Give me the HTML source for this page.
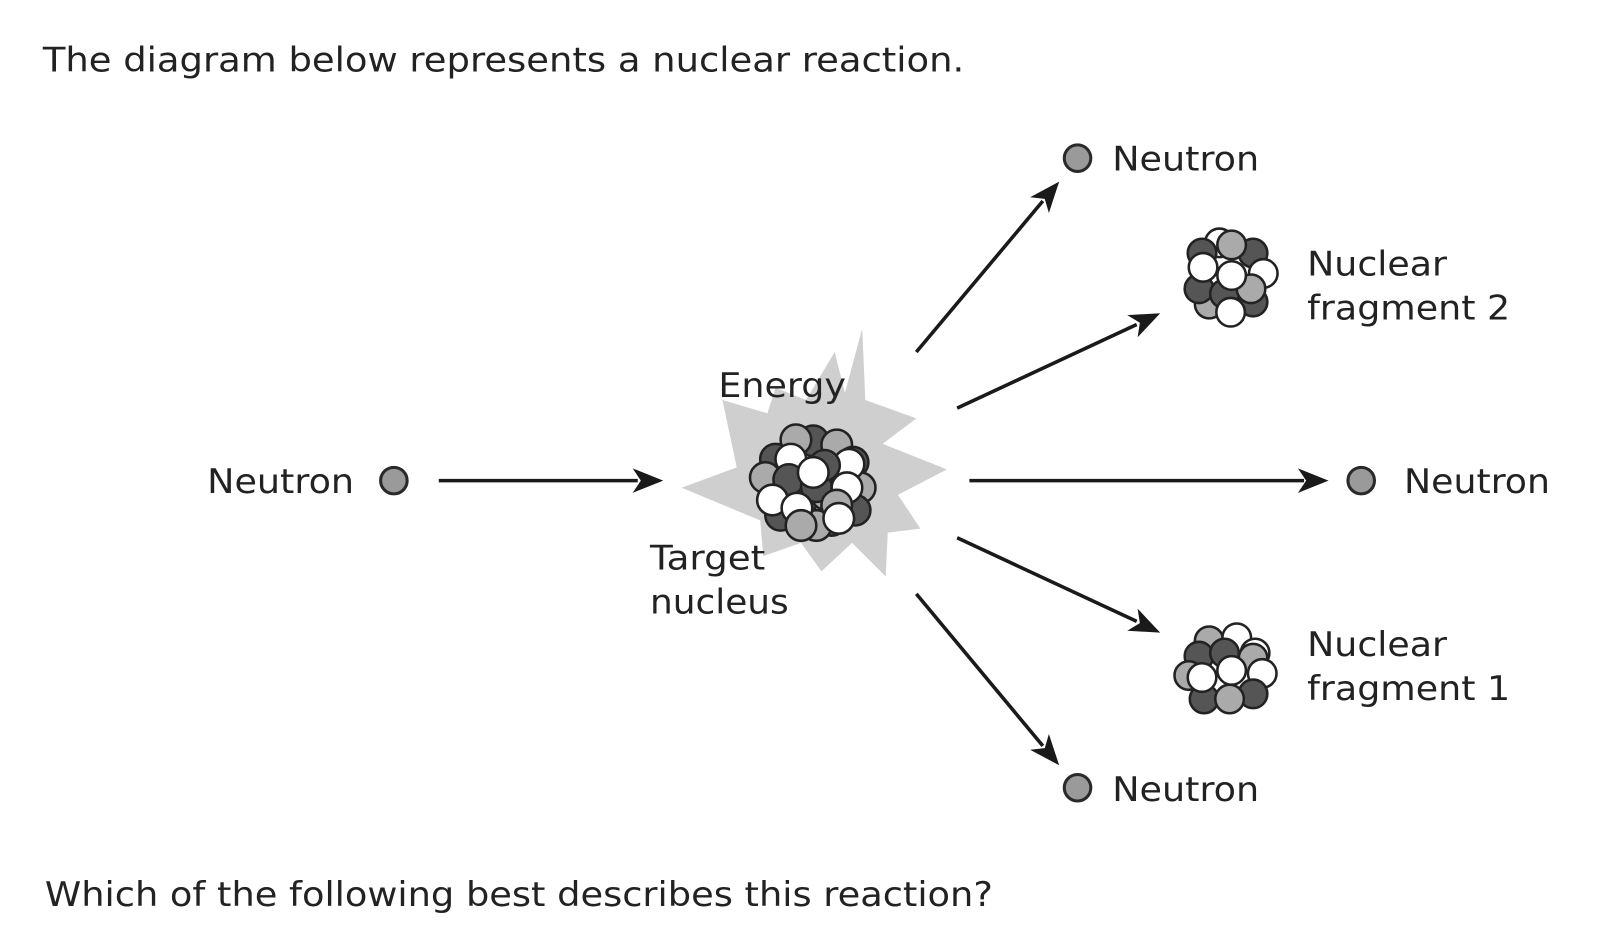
<!DOCTYPE html>
<html><head><meta charset="utf-8"><style>
html,body{margin:0;padding:0;background:#fff;}
svg{display:block;}
text{font-family:"DejaVu Sans","Liberation Sans",sans-serif;fill:#222;font-size:33px;}
</style></head><body>
<svg width="1600" height="947" viewBox="0 0 1600 947">
<g transform="scale(1.0204)">
<text x="42" y="70" textLength="903" lengthAdjust="spacingAndGlyphs">The diagram below represents a nuclear reaction.</text>
<text x="44" y="888" textLength="929" lengthAdjust="spacingAndGlyphs">Which of the following best describes this reaction?</text>

<polygon fill="#cfcfcf" points="845,322 848,392 898,410 865,435 928,460 880,485 902,518 870,522 868,565 835,532 805,560 785,532 748,545 745,510 668,478 722,458 708,392 752,405 760,380 790,392 818,345 828,385"/>

<g stroke="#1a1a1a" stroke-width="3.5" fill="none">
<line x1="430" y1="471" x2="625" y2="471"/>
<line x1="898" y1="345" x2="1022" y2="197"/>
<line x1="938" y1="400" x2="1114" y2="318"/>
<line x1="950" y1="471" x2="1278" y2="471"/>
<line x1="938" y1="527" x2="1114" y2="609"/>
<line x1="898" y1="582" x2="1022" y2="731"/>
</g>
<g fill="#1a1a1a">
<polygon points="0,0 -30,-12 -22,0 -30,12" transform="translate(650,471)"/>
<polygon points="0,0 -30,-12 -22,0 -30,12" transform="translate(1038,178) rotate(-50)"/>
<polygon points="0,0 -30,-12 -22,0 -30,12" transform="translate(1137,307) rotate(-25)"/>
<polygon points="0,0 -30,-12 -22,0 -30,12" transform="translate(1302,471)"/>
<polygon points="0,0 -30,-12 -22,0 -30,12" transform="translate(1137,620) rotate(25)"/>
<polygon points="0,0 -30,-12 -22,0 -30,12" transform="translate(1038,750) rotate(50)"/>
</g>

<g fill="#9a9a9a" stroke="#2a2a2a" stroke-width="3">
<circle cx="386" cy="471" r="13"/>
<circle cx="1056" cy="155" r="13"/>
<circle cx="1334" cy="471" r="13"/>
<circle cx="1056" cy="772" r="13"/>
</g>

<g stroke="#222" stroke-width="2.5">
<circle cx="797" cy="432" r="15" fill="#555"/>
<circle cx="780" cy="431" r="15" fill="#aaa"/>
<circle cx="820" cy="436" r="15" fill="#aaa"/>
<circle cx="760" cy="450" r="15" fill="#555"/>
<circle cx="836" cy="453" r="15" fill="#555"/>
<circle cx="750" cy="468" r="15" fill="#aaa"/>
<circle cx="843" cy="478" r="15" fill="#aaa"/>
<circle cx="765" cy="505" r="15" fill="#555"/>
<circle cx="815" cy="510" r="15" fill="#555"/>
<circle cx="800" cy="515" r="15" fill="#aaa"/>
<circle cx="786" cy="490" r="15" fill="#555"/>
<circle cx="810" cy="485" r="15" fill="#aaa"/>
<circle cx="838" cy="500" r="15" fill="#555"/>
<circle cx="775" cy="450" r="15" fill="#fff"/>
<circle cx="773" cy="470" r="15" fill="#555"/>
<circle cx="832" cy="455" r="15" fill="#fff"/>
<circle cx="830" cy="478" r="15" fill="#fff"/>
<circle cx="800" cy="477" r="15" fill="#555"/>
<circle cx="808" cy="456" r="15" fill="#555"/>
<circle cx="757" cy="490" r="15" fill="#fff"/>
<circle cx="781" cy="498" r="15" fill="#fff"/>
<circle cx="820" cy="495" r="15" fill="#aaa"/>
<circle cx="797" cy="463" r="15" fill="#fff"/>
<circle cx="822" cy="508" r="15" fill="#fff"/>
<circle cx="785" cy="515" r="15" fill="#aaa"/>
</g>

<g stroke="#222" stroke-width="2.5">
<circle cx="1195" cy="238" r="14" fill="#fff"/>
<circle cx="1178" cy="248" r="14" fill="#555"/>
<circle cx="1228" cy="248" r="14" fill="#555"/>
<circle cx="1207" cy="240" r="14" fill="#aaa"/>
<circle cx="1238" cy="268" r="14" fill="#fff"/>
<circle cx="1185" cy="298" r="14" fill="#aaa"/>
<circle cx="1228" cy="296" r="14" fill="#555"/>
<circle cx="1175" cy="283" r="14" fill="#555"/>
<circle cx="1200" cy="288" r="14" fill="#555"/>
<circle cx="1226" cy="283" r="14" fill="#aaa"/>
<circle cx="1206" cy="306" r="14" fill="#fff"/>
<circle cx="1179" cy="262" r="14" fill="#fff"/>
<circle cx="1207" cy="270" r="14" fill="#fff"/>
</g>

<g stroke="#222" stroke-width="2.5">
<circle cx="1185" cy="628" r="14" fill="#aaa"/>
<circle cx="1212" cy="625" r="14" fill="#fff"/>
<circle cx="1230" cy="640" r="14" fill="#fff"/>
<circle cx="1175" cy="643" r="14" fill="#555"/>
<circle cx="1200" cy="640" r="14" fill="#555"/>
<circle cx="1228" cy="645" r="14" fill="#aaa"/>
<circle cx="1165" cy="662" r="14" fill="#aaa"/>
<circle cx="1237" cy="660" r="14" fill="#fff"/>
<circle cx="1180" cy="685" r="14" fill="#555"/>
<circle cx="1228" cy="680" r="14" fill="#555"/>
<circle cx="1205" cy="685" r="14" fill="#aaa"/>
<circle cx="1178" cy="664" r="14" fill="#fff"/>
<circle cx="1207" cy="657" r="14" fill="#fff"/>
</g>

<text x="203" y="483" textLength="144" lengthAdjust="spacingAndGlyphs">Neutron</text>
<text x="704" y="389" textLength="125" lengthAdjust="spacingAndGlyphs">Energy</text>
<text x="637" y="558" textLength="113" lengthAdjust="spacingAndGlyphs">Target</text>
<text x="637" y="601" textLength="136" lengthAdjust="spacingAndGlyphs">nucleus</text>
<text x="1090" y="167" textLength="144" lengthAdjust="spacingAndGlyphs">Neutron</text>
<text x="1281" y="270" textLength="137" lengthAdjust="spacingAndGlyphs">Nuclear</text>
<text x="1281" y="313" textLength="199" lengthAdjust="spacingAndGlyphs">fragment 2</text>
<text x="1376" y="483" textLength="143" lengthAdjust="spacingAndGlyphs">Neutron</text>
<text x="1281" y="643" textLength="137" lengthAdjust="spacingAndGlyphs">Nuclear</text>
<text x="1281" y="686" textLength="199" lengthAdjust="spacingAndGlyphs">fragment 1</text>
<text x="1090" y="785" textLength="144" lengthAdjust="spacingAndGlyphs">Neutron</text>
</g>
</svg>
</body></html>
